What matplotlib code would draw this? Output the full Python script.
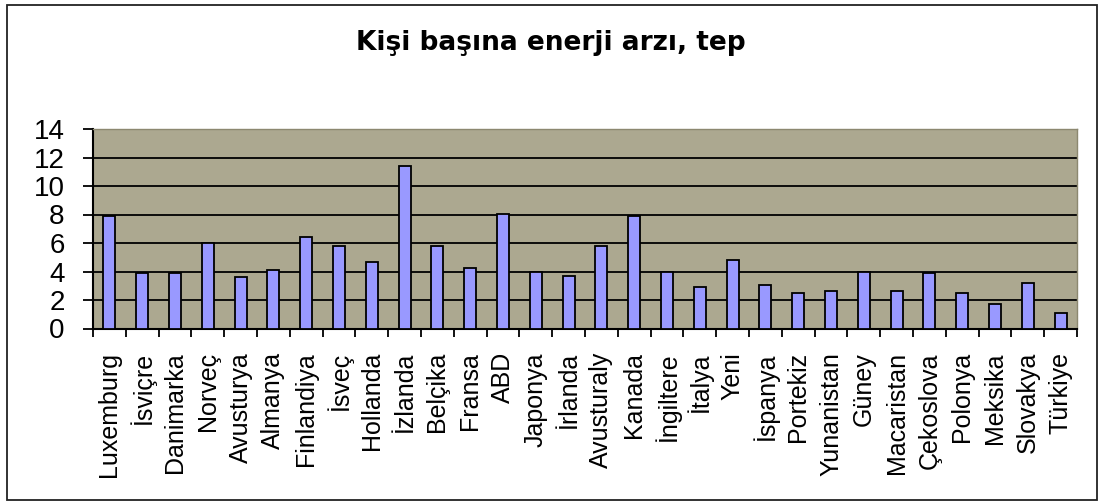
import matplotlib
matplotlib.use("Agg")
import matplotlib.pyplot as plt
from matplotlib.patches import Rectangle
import numpy as np

title = "Kişi başına enerji arzı, tep"
countries = ["Luxemburg", "İsviçre", "Danimarka", "Norveç", "Avusturya", "Almanya",
             "Finlandiya", "İsveç", "Hollanda", "İzlanda", "Belçika", "Fransa", "ABD",
             "Japonya", "İrlanda", "Avusturaly", "Kanada", "İngiltere", "İtalya", "Yeni",
             "İspanya", "Portekiz", "Yunanistan", "Güney", "Macaristan", "Çekoslova",
             "Polonya", "Meksika", "Slovakya", "Türkiye"]
values = [7.9, 3.9, 3.9, 6.0, 3.6, 4.1, 6.45, 5.8, 4.65, 11.4, 5.8, 4.25, 8.05,
          3.95, 3.7, 5.8, 7.9, 3.95, 2.9, 4.8, 3.05, 2.5, 2.65, 3.95, 2.65, 3.9,
          2.5, 1.7, 3.2, 1.1]
yticks = [0, 2, 4, 6, 8, 10, 12, 14]

plt.rcParams['font.family'] = ['Liberation Sans', 'DejaVu Sans']

W, H = 1100, 503
fig = plt.figure(figsize=(W / 100, H / 100), dpi=100)
fig.patch.set_facecolor('white')

ax = fig.add_axes([93 / W, (H - 328.5) / H, 984 / W, 199.5 / H])
ax.set_facecolor('#aca890')
x = np.arange(len(countries))
ax.bar(x, values, width=0.36, color='#9999ff', edgecolor='black', linewidth=1.3, zorder=3)

ax.set_xlim(-0.5, len(countries) - 0.5)
ax.set_ylim(0, 14)
ax.set_yticks(yticks)
ax.set_yticklabels([str(v) for v in yticks], fontsize=20)
ax.yaxis.grid(True, color='black', linewidth=1.3, zorder=1)
ax.set_axisbelow(True)

ax.set_xticks(x)
ax.set_xticklabels(countries, rotation=90, fontsize=18, va='top', ha='center')
ax.set_xticks(np.arange(len(countries) + 1) - 0.5, minor=True)
ax.tick_params(axis='x', which='major', length=0, pad=17)
ax.tick_params(axis='x', which='minor', length=6, width=1.3, color='black')
ax.tick_params(axis='y', which='major', length=7.5, width=1.3, pad=13, color='black')

for s in ['left', 'bottom']:
    ax.spines[s].set_color('black')
    ax.spines[s].set_linewidth(1.5)
for s in ['top', 'right']:
    ax.spines[s].set_color('#8c8870')
    ax.spines[s].set_linewidth(1.0)

fig.text(551 / W, (H - 50) / H, title, ha='center', va='baseline',
         fontsize=19, fontweight='bold', family=['DejaVu Sans'])

fig.patches.append(Rectangle((7 / W, 3 / H), 1090 / W, 495 / H, transform=fig.transFigure,
                             fill=False, edgecolor='#222222', linewidth=1.3))

fig.savefig('out.png', dpi=100)
